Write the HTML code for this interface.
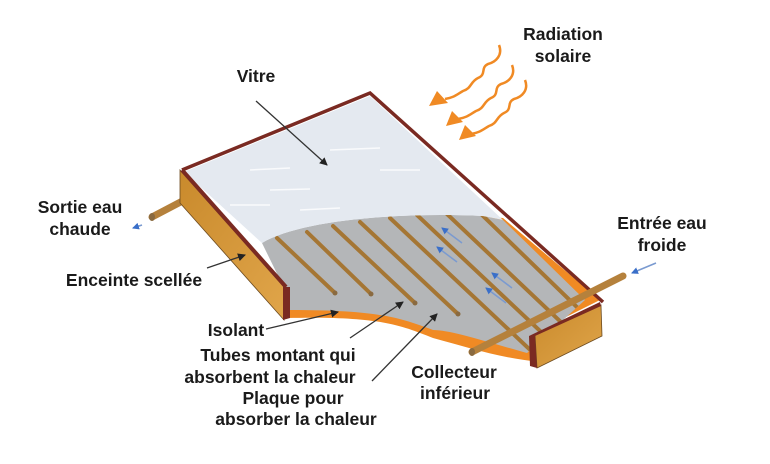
<!DOCTYPE html>
<html><head><meta charset="utf-8"><style>
body{margin:0;background:#fff;width:770px;height:459px;overflow:hidden}
text{font-family:"Liberation Sans",sans-serif;font-weight:bold;font-size:17.5px;fill:#1a1a1a}
</style></head><body>
<svg width="770" height="459" viewBox="0 0 770 459" xmlns="http://www.w3.org/2000/svg">
<defs>
<linearGradient id="wood" x1="0" y1="0" x2="1" y2="1"><stop offset="0" stop-color="#c98a2c"/><stop offset="1" stop-color="#e0a54a"/></linearGradient>
<marker id="ah" markerWidth="8" markerHeight="8" refX="7" refY="4" orient="auto" markerUnits="userSpaceOnUse"><path d="M0,0 L8,4 L0,8z" fill="#222"/></marker>
<marker id="bh" markerWidth="7" markerHeight="7" refX="6" refY="3.5" orient="auto" markerUnits="userSpaceOnUse"><path d="M0,0 L7,3.5 L0,7z" fill="#3a6fc9"/></marker>
<clipPath id="plate"><path d="M285,290 L262,243 C300,220 400,212 483,216 L503,220 L585,300 L527,353 C480,340 450,330 433,330 C400,318 380,310 290,310 Z"/></clipPath>
</defs>
<line x1="152" y1="217" x2="192" y2="196" stroke="#b5813c" stroke-width="7" stroke-linecap="round"/>
<ellipse cx="152" cy="217" rx="3" ry="4" fill="#8a6a40"/>
<path d="M287,300 C380,305 400,312 433,322 C470,335 500,345 530,350 L540,362 C500,358 470,348 433,338 C400,325 380,316 287,318 Z" fill="#f08a24"/>
<path d="M483,216 L503,218 L600,300 L560,320 Z" fill="#f08a24"/>
<path d="M285,290 L262,243 C300,220 400,212 483,216 L503,220 L585,300 L527,353 C480,340 450,330 433,330 C400,318 380,310 290,310 Z" fill="#b4b6b8"/>
<g clip-path="url(#plate)" stroke="#a57634" stroke-width="4" stroke-linecap="round">
<line x1="277" y1="238" x2="335" y2="293"/>
<line x1="307" y1="232" x2="371" y2="294"/>
<line x1="333" y1="226" x2="415" y2="303"/>
<line x1="360" y1="222" x2="458" y2="314"/>
<line x1="390" y1="218" x2="560" y2="378"/>
<line x1="417" y1="215" x2="590" y2="378"/>
<line x1="447" y1="214" x2="620" y2="378"/>
<line x1="480" y1="213" x2="650" y2="378"/>
</g>
<g fill="#8a6a40"><circle cx="335" cy="293" r="2.5"/><circle cx="371" cy="294" r="2.5"/><circle cx="415" cy="303" r="2.5"/><circle cx="458" cy="314" r="2.5"/></g>
<g stroke="#7a9ad0" stroke-width="1.5" marker-end="url(#bh)">
<line x1="462" y1="243" x2="442" y2="228"/>
<line x1="457" y1="262" x2="437" y2="247"/>
<line x1="512" y1="288" x2="492" y2="273"/>
<line x1="506" y1="303" x2="486" y2="288"/>
<line x1="656" y1="263" x2="632" y2="273"/>
<line x1="142" y1="225" x2="133" y2="228"/>
</g>
<path d="M184,172 L370,96 L503,220 L483,216 C400,212 300,220 262,243 Z" fill="#e4e9f0"/>
<g stroke="#fff" stroke-width="1.5" opacity=".8"><line x1="250" y1="170" x2="290" y2="168"/><line x1="330" y1="150" x2="380" y2="148"/><line x1="270" y1="190" x2="310" y2="189"/><line x1="380" y1="170" x2="420" y2="170"/><line x1="230" y1="205" x2="270" y2="205"/><line x1="300" y1="210" x2="340" y2="208"/></g>
<path d="M182,170 L370,93 L603,302" fill="none" stroke="#7a2a22" stroke-width="3.5"/>
<path d="M180,170 L284,287 L284,320 L180,203 Z" fill="url(#wood)" stroke="#6b4a20" stroke-width=".8"/>
<path d="M182,170 L286,287" stroke="#7a2a22" stroke-width="4"/>
<path d="M283,287 L290,287 L290,318 L283,320 Z" fill="#7a2a22"/>
<line x1="472" y1="352" x2="623" y2="276" stroke="#b5813c" stroke-width="7" stroke-linecap="round"/>
<ellipse cx="472" cy="352" rx="3" ry="4" fill="#8a6a40"/>
<path d="M535,335 L601,305 L602,336 L537,368 Z" fill="url(#wood)" stroke="#6b4a20" stroke-width=".8"/>
<path d="M529,336 L600,302 L601,306 L535,336 L537,368 L530,366 Z" fill="#7a2a22"/>
<!-- radiation -->
<g fill="none" stroke="#f08a24" stroke-width="2.5">
<path d="M499,45 C503,55 496,62 488,64 C480,68 487,74 478,78 C470,82 472,88 463,91 C456,95 455,97 445,99"/>
<path d="M512,65 C516,75 509,82 501,84 C493,88 500,94 491,98 C483,102 485,108 476,111 C469,115 468,117 458,119"/>
<path d="M525,80 C529,90 522,97 514,99 C506,103 513,109 504,113 C496,117 498,123 489,126 C482,130 481,132 471,134"/>
</g>
<g fill="#f08a24"><path d="M429,106 L437,91 L448,103Z"/><path d="M446,126 L452,111 L463,122Z"/><path d="M459,140 L465,125 L476,136Z"/></g>
<g stroke="#333" stroke-width="1.3" fill="none">
<line x1="256" y1="101" x2="327" y2="165" marker-end="url(#ah)"/>
<line x1="207" y1="268" x2="245" y2="255" marker-end="url(#ah)"/>
<line x1="266" y1="329" x2="338" y2="312" marker-end="url(#ah)"/>
<line x1="350" y1="338" x2="403" y2="302" marker-end="url(#ah)"/>
<line x1="372" y1="381" x2="437" y2="314" marker-end="url(#ah)"/>
</g>
<text x="256" y="82" text-anchor="middle">Vitre</text>
<text x="563" y="40" text-anchor="middle">Radiation</text>
<text x="563" y="62" text-anchor="middle">solaire</text>
<text x="80" y="213" text-anchor="middle">Sortie eau</text>
<text x="80" y="235" text-anchor="middle">chaude</text>
<text x="134" y="286" text-anchor="middle">Enceinte scellée</text>
<text x="236" y="336" text-anchor="middle">Isolant</text>
<text x="278" y="361" text-anchor="middle">Tubes montant qui</text>
<text x="270" y="383" text-anchor="middle">absorbent la chaleur</text>
<text x="293" y="404" text-anchor="middle">Plaque pour</text>
<text x="296" y="425" text-anchor="middle">absorber la chaleur</text>
<text x="454" y="378" text-anchor="middle">Collecteur</text>
<text x="455" y="399" text-anchor="middle">inférieur</text>
<text x="662" y="229" text-anchor="middle">Entrée eau</text>
<text x="662" y="251" text-anchor="middle">froide</text>
</svg>
</body></html>
